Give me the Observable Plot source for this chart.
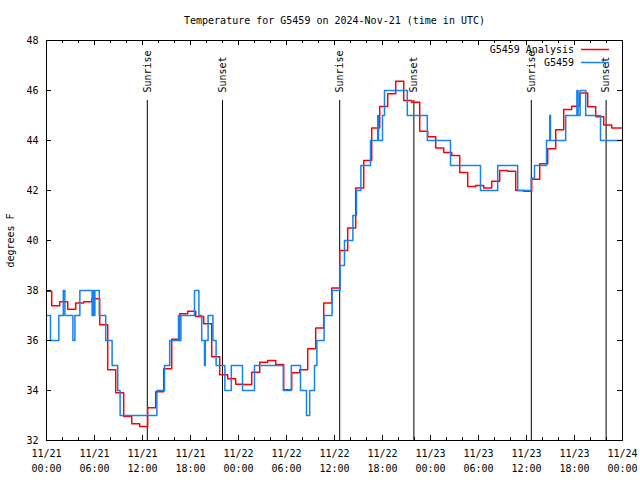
<!DOCTYPE html>
<html><head><meta charset="utf-8">
<script src="https://cdn.jsdelivr.net/npm/d3@7"></script>
<script src="https://cdn.jsdelivr.net/npm/@observablehq/plot@0.6"></script>
<style>body{margin:0;background:#fff}svg{display:block}</style>
</head><body><div id="chart"></div>
<script>
const title = "Temperature for G5459 on 2024-Nov-21 (time in UTC)";
const yLabel = "degrees F";
const seriesNames = ["G5459 Analysis", "G5459"];
const seriesColors = ["#ff0000", "#1482f0"];

// Hourly analysis values (hour 0..71), each step starts a little before the hour
const analysisTemps = [
  37.97, 37.39, 37.55, 37.25, 37.5, 37.55, 37.67, 36.63, 34.83, 33.91, 32.96, 32.67,
  32.56, 33.31, 33.95, 34.87, 36.05, 37.07, 37.17, 36.96, 36.67, 35.35, 34.63, 34.47,
  34.25, 34.24, 34.73, 35.13, 35.2, 35.04, 34.03, 34.71, 34.83, 35.67, 36.5, 37.5,
  38.1, 39.6, 40.5, 42.1, 43.2, 44.5, 45.36, 45.87, 46.37, 45.6, 45.53, 44.37,
  44.15, 43.7, 43.52, 43.4, 42.72, 42.16, 42.2, 42.1, 42.37, 42.8, 42.77, 42.0,
  41.97, 42.45, 43.07, 43.67, 44.43, 45.24, 45.37, 45.9, 45.35, 44.95, 44.62, 44.5
];
const analysisLead = 0.35;

// Observations: hour (since 11/21 00:00 UTC) at which each reading starts
const obsHours = [
  0, 0.5, 1.54, 2.1, 2.3, 3.3, 3.55, 4.17, 5.7, 5.85, 5.95, 6.05, 6.6, 7.4, 8.2, 8.9, 9.2,
  13.8, 14.75, 15.4, 16.5, 16.6, 16.8, 18.5, 19.05, 19.4, 19.75, 19.85, 20.2, 20.8, 21.2,
  22.3, 23.1, 24.5, 26.0, 29.6, 30.6, 31.75, 32.5, 32.9, 33.5, 33.8, 34.7, 35.7, 36.7,
  37.25, 38.3, 38.75, 39.3, 40.5, 41.4, 41.5, 42.0, 42.25, 45.1, 47.6, 50.5, 54.25,
  56.4, 58.9, 60.6, 61.0, 62.5, 62.9, 63.0, 64.9, 66.3, 66.45, 66.7, 67.4, 69.25
];
const obsTemps = [
  37, 36, 37, 38, 37, 36, 37, 38, 37, 38, 37, 38, 37, 36, 35, 34, 33,
  34, 35, 36, 37, 36, 37, 38, 37, 36, 35, 36, 37, 36, 35,
  34, 35, 34, 35, 34, 35, 34, 33, 34, 35, 36, 37, 38, 39,
  40, 41, 42, 43, 44, 45, 44, 45, 46, 45, 44, 43, 42,
  43, 42, 42.5, 43, 44, 45, 44, 45, 46, 45, 46, 45, 44
];

const sunriseHours = [12.6, 36.65, 60.6];
const sunsetHours = [22.0, 45.92, 69.95];
const sunLineTop = 45.6;

const xTickHours = [0, 6, 12, 18, 24, 30, 36, 42, 48, 54, 60, 66, 72];
const xTickDates = ["11/21","11/21","11/21","11/21","11/22","11/22","11/22","11/22","11/23","11/23","11/23","11/23","11/24"];
const xTickTimes = ["00:00","06:00","12:00","18:00","00:00","06:00","12:00","18:00","00:00","06:00","12:00","18:00","00:00"];
const xMinorHours = [2,4,8,10,14,16,20,22,26,28,32,34,38,40,44,46,50,52,56,58,62,64,68,70];
const yTicks = [32, 34, 36, 38, 40, 42, 44, 46, 48];

const W = 640, H = 480, ML = 46, MR = 18, MT = 40, MB = 40;
const xDomain = [0, 72], yDomain = [32, 48];
const pxPerH = (W - ML - MR) / (xDomain[1] - xDomain[0]);
const pxPerDeg = (H - MT - MB) / (yDomain[1] - yDomain[0]);

const analysis = analysisTemps.map((v, k) => ({h: Math.max(0, k - analysisLead), v}));
analysis.push({h: xDomain[1], v: analysisTemps[analysisTemps.length - 1]});
const obs = obsHours.map((h, i) => ({h, v: obsTemps[i]}));
obs.push({h: xDomain[1], v: obsTemps[obsTemps.length - 1]});

const font = "DejaVu Sans Mono, Liberation Mono, monospace";
const majT = 5, minT = 3;

const plot = Plot.plot({
  width: W, height: H,
  marginLeft: ML, marginRight: MR, marginTop: MT, marginBottom: MB,
  x: {domain: xDomain},
  y: {domain: yDomain},
  style: {fontFamily: font, fontSize: "10px", color: "#000", background: "#fff"},
  marks: [
    Plot.ruleX(sunriseHours.concat(sunsetHours), {y1: yDomain[0], y2: sunLineTop, stroke: "#000", strokeWidth: 1}),
    Plot.text(sunriseHours, {x: d => d, y: sunLineTop, text: d => "Sunrise", rotate: -90, textAnchor: "start", lineAnchor: "middle", dy: -8, fill: "#000"}),
    Plot.text(sunsetHours, {x: d => d, y: sunLineTop, text: d => "Sunset", rotate: -90, textAnchor: "start", lineAnchor: "middle", dy: -8, fill: "#000"}),
    Plot.line(analysis, {x: "h", y: "v", curve: "step-after", stroke: seriesColors[0], strokeWidth: 1.5}),
    Plot.line(obs, {x: "h", y: "v", curve: "step-after", stroke: seriesColors[1], strokeWidth: 1.5}),
    Plot.frame({stroke: "#000"}),
    // ticks (inward)
    Plot.ruleY(yTicks, {x1: xDomain[0], x2: xDomain[0] + majT / pxPerH, stroke: "#000"}),
    Plot.ruleY(yTicks, {x1: xDomain[1] - majT / pxPerH, x2: xDomain[1], stroke: "#000"}),
    Plot.ruleX(xTickHours, {y1: yDomain[0], y2: yDomain[0] + majT / pxPerDeg, stroke: "#000"}),
    Plot.ruleX(xTickHours, {y1: yDomain[1] - majT / pxPerDeg, y2: yDomain[1], stroke: "#000"}),
    Plot.ruleX(xMinorHours, {y1: yDomain[0], y2: yDomain[0] + minT / pxPerDeg, stroke: "#000"}),
    Plot.ruleX(xMinorHours, {y1: yDomain[1] - minT / pxPerDeg, y2: yDomain[1], stroke: "#000"}),
    Plot.axisY({ticks: yTicks, tickSize: 0, tickPadding: 8, label: null, fontSize: 10}),
    Plot.axisX({ticks: xTickHours, tickSize: 0, tickPadding: 6, label: null, lineHeight: 1.5,
      tickFormat: d => { const i = xTickHours.indexOf(d); return xTickDates[i] + "\n" + xTickTimes[i]; }}),
    Plot.text([title], {frameAnchor: "top", dy: -20, lineAnchor: "middle", fill: "#000"}),
    Plot.text([yLabel], {frameAnchor: "left", dx: -36, rotate: -90, textAnchor: "middle", lineAnchor: "middle", fill: "#000"})
  ]
});

const svg = d3.select(plot);
const lg = svg.append("g").attr("font-family", font).attr("font-size", 10);
const legendRows = [49.5, 62.5];
seriesNames.forEach((name, i) => {
  lg.append("text").attr("x", 574).attr("y", legendRows[i]).attr("dy", "0.35em")
    .attr("text-anchor", "end").attr("fill", "#000").text(name);
  lg.append("line").attr("x1", 581).attr("x2", 609).attr("y1", legendRows[i]).attr("y2", legendRows[i])
    .attr("stroke", seriesColors[i]).attr("stroke-width", 1.5);
});

document.getElementById("chart").appendChild(plot);
</script>
</body></html>
